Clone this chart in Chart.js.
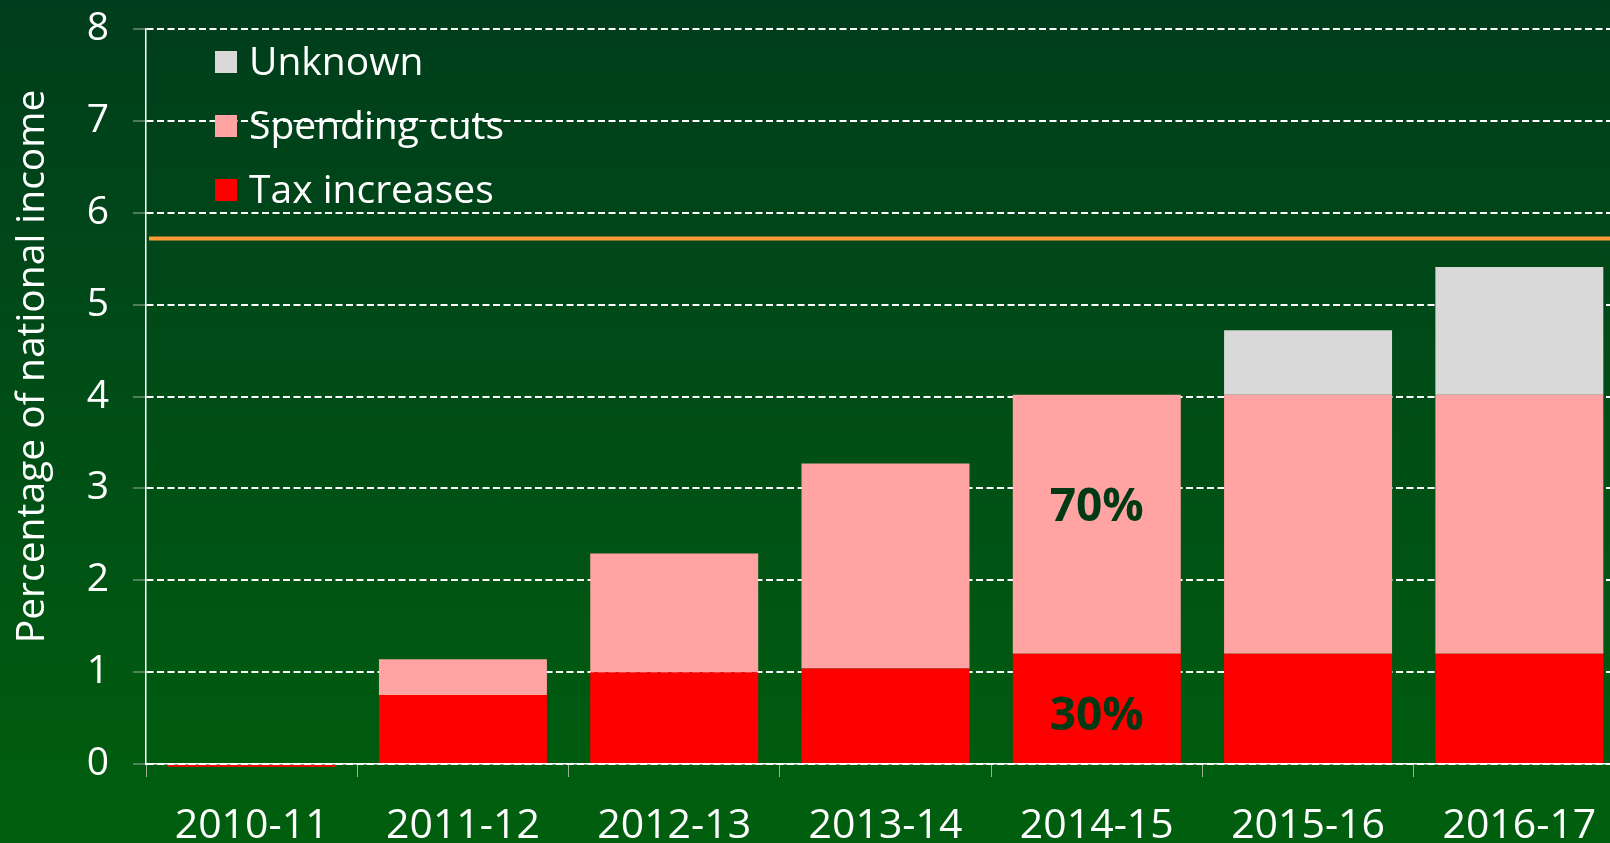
<!DOCTYPE html>
<html>
<head>
<meta charset="utf-8">
<script src="https://cdn.jsdelivr.net/npm/chart.js@4/dist/chart.umd.min.js"></script>
<style>
  html, body { margin: 0; padding: 0; overflow: hidden; }
  body { width: 1610px; height: 843px; background: linear-gradient(to bottom, #003d1c 0%, #004c17 45%, #005f0e 100%); }
  #wrap { position: relative; width: 1625px; height: 843px; }
</style>
</head>
<body>
<div id="wrap"><canvas id="grafico"></canvas></div>
<script>
// dados
const anos = ['2010-11', '2011-12', '2012-13', '2013-14', '2014-15', '2015-16', '2016-17'];
const aumentosImpostos = [-0.03, 0.75, 1.0, 1.04, 1.2, 1.2, 1.2];
const cortesGastos = [null, 0.39, 1.29, 2.23, 2.82, 2.82, 2.82];
const desconhecido = [null, null, null, null, null, 0.7, 1.39];
const rotulosImpostos = ['', '', '', '', '30%', '', ''];
const rotulosGastos = ['', '', '', '', '70%', '', ''];
const linhaMeta = 5.72;
const eixoY = { min: 0, max: 8, passo: 1 };
const tituloY = 'Percentage of national income';

Chart.defaults.font.family = "'Open Sans', sans-serif";

// desenha legenda, linha laranja, percentuais e título do eixo
const extras = {
    id: 'extras',
    afterDatasetsDraw(chart) {
        const { ctx, chartArea, scales } = chart;
        ctx.save();

        // linha horizontal laranja
        const yLinha = scales.y.getPixelForValue(linhaMeta);
        ctx.strokeStyle = '#ff9a36';
        ctx.lineWidth = 4;
        ctx.beginPath();
        ctx.moveTo(chartArea.left + 3, yLinha);
        ctx.lineTo(chartArea.right, yLinha);
        ctx.stroke();

        // percentuais dentro das barras
        ctx.font = "bold 46px 'Open Sans', sans-serif";
        ctx.fillStyle = '#003a15';
        ctx.textAlign = 'center';
        ctx.textBaseline = 'middle';
        chart.data.datasets.forEach((ds, i) => {
            if (!ds.rotulos) return;
            const meta = chart.getDatasetMeta(i);
            ds.rotulos.forEach((txt, j) => {
                if (!txt) return;
                const barra = meta.data[j];
                ctx.fillText(txt, barra.x, (barra.y + barra.base) / 2 + (ds.rotuloDesvio || 0));
            });
        });

        // legenda (ordem invertida)
        ctx.font = "39px 'Open Sans', sans-serif";
        ctx.textAlign = 'left';
        const itens = chart.data.datasets.slice().reverse();
        itens.forEach((ds, k) => {
            const x = chartArea.left + 69;
            const y = chartArea.top + 33 + k * 64;
            ctx.fillStyle = ds.backgroundColor;
            ctx.fillRect(x, y - 11, 22, 22);
            ctx.fillStyle = '#ffffff';
            ctx.fillText(ds.label, x + 34, y + 2);
        });

        // título do eixo Y
        ctx.font = "39px 'Open Sans', sans-serif";
        ctx.textAlign = 'center';
        ctx.translate(33, (chartArea.top + chartArea.bottom) / 2 - 30);
        ctx.rotate(-Math.PI / 2);
        ctx.fillText(tituloY, 0, 0);

        ctx.restore();
    }
};

const canvas = document.getElementById('grafico');
new Chart(canvas.getContext('2d'), {
    type: 'bar',
    data: {
        labels: anos,
        datasets: [
            { label: 'Tax increases', data: aumentosImpostos, backgroundColor: '#ff0000', rotulos: rotulosImpostos, rotuloDesvio: 9 },
            { label: 'Spending cuts', data: cortesGastos, backgroundColor: '#ffa3a3', rotulos: rotulosGastos, rotuloDesvio: -16 },
            { label: 'Unknown', data: desconhecido, backgroundColor: '#d9d9d9' }
        ]
    },
    options: {
        responsive: true,
        maintainAspectRatio: false,
        animation: false,
        layout: { padding: { top: 29, right: 0, left: 0, bottom: 0 } },
        datasets: {
            bar: { barPercentage: 1, categoryPercentage: 0.795, borderWidth: 0, clip: false }
        },
        scales: {
            x: {
                stacked: true,
                afterFit(scale) { scale.height = 79; scale.paddingLeft = 0; scale.paddingRight = 0; },
                grid: { drawOnChartArea: false, drawTicks: true, tickLength: 13, tickColor: '#9fb09f', tickWidth: 1 },
                border: { color: '#ffffff', width: 1.5 },
                ticks: { color: '#ffffff', font: { size: 41 }, padding: 25, maxRotation: 0 }
            },
            y: {
                stacked: true,
                min: eixoY.min,
                max: eixoY.max,
                afterFit(scale) { scale.width = 146; scale.paddingTop = 0; scale.paddingBottom = 0; },
                grid: {
                    color: '#ffffff',
                    lineWidth: 2,
                    tickLength: 13,
                    tickColor: '#9fb09f',
                    tickWidth: 1,
                    tickBorderDash: []
                },
                border: { color: '#ffffff', width: 1.5, dash: [7, 3.5] },
                ticks: { stepSize: eixoY.passo, color: '#ffffff', font: { size: 39 }, padding: 24 }
            }
        },
        plugins: {
            legend: { display: false },
            tooltip: { enabled: false }
        }
    },
    plugins: [extras]
});
</script>
</body>
</html>
